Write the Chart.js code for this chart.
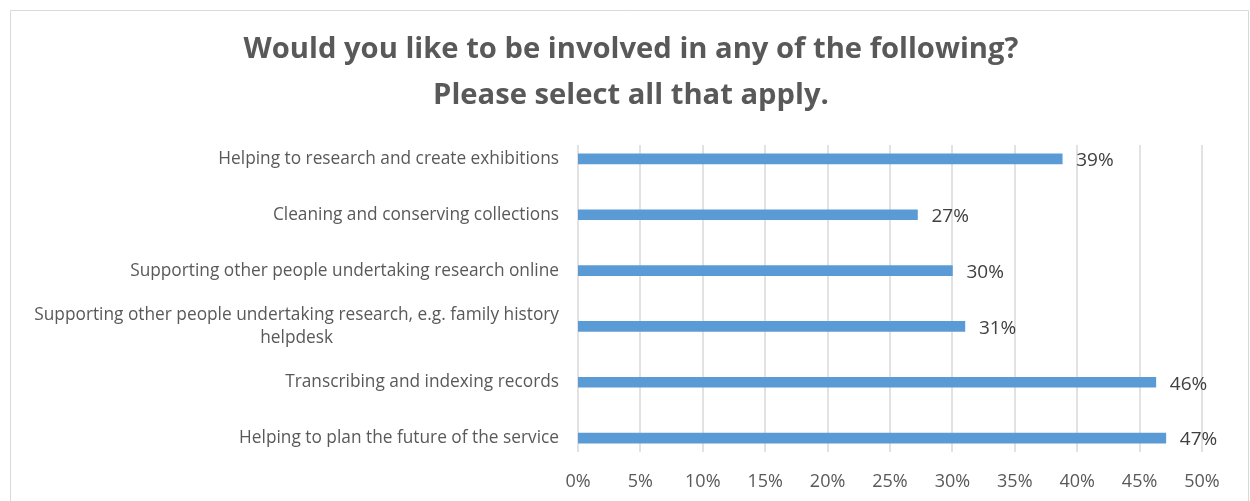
<!DOCTYPE html>
<html>
<head>
<meta charset="utf-8">
<script src="https://cdn.jsdelivr.net/npm/chart.js@4/dist/chart.umd.min.js"></script>
<style>
html,body{margin:0;padding:0;background:#fff;}
#wrap{position:relative;width:1250px;height:501px;}
</style>
</head>
<body>
<div id="wrap"><canvas id="c" width="1250" height="501"></canvas></div>
<script>
const titleLines = ["Would you like to be involved in any of the following?", "Please select all that apply."];
const categories = [
  "Helping to research and create exhibitions",
  "Cleaning and conserving collections",
  "Supporting other people undertaking research online",
  ["Supporting other people undertaking research, e.g. family history", "helpdesk"],
  "Transcribing and indexing records",
  "Helping to plan the future of the service"
];
const values = [38.8, 27.2, 30.0, 31.0, 46.3, 47.1];
const valueLabels = ["39%", "27%", "30%", "31%", "46%", "47%"];
const xMin = 0, xMax = 50, xStep = 5;

const framePlugin = {
  id: 'frame',
  beforeDraw(chart) {
    const ctx = chart.ctx;
    ctx.save();
    ctx.strokeStyle = '#d9d9d9';
    ctx.lineWidth = 1;
    ctx.beginPath();
    ctx.moveTo(10.5, 600); ctx.lineTo(10.5, 10.5); ctx.lineTo(1248.5, 10.5); ctx.lineTo(1248.5, 600);
    ctx.stroke();
    ctx.restore();
  }
};

const titlePlugin = {
  id: 'ctitle',
  afterDraw(chart) {
    const ctx = chart.ctx;
    ctx.save();
    ctx.fillStyle = '#595959';
    ctx.font = 'bold 29.2px "Open Sans"';
    ctx.textAlign = 'center';
    ctx.textBaseline = 'middle';
    ctx.fillText(titleLines[0], 631, 50);
    ctx.fillText(titleLines[1], 631, 96);
    ctx.restore();
  }
};

const yLabelPlugin = {
  id: 'ylabels',
  afterDraw(chart) {
    const ctx = chart.ctx, ys = chart.scales.y;
    ctx.save();
    ctx.fillStyle = '#595959';
    ctx.font = '17.3px "Open Sans"';
    ctx.textAlign = 'center';
    ctx.textBaseline = 'middle';
    const rightEdge = ys.right - 19;
    chart.data.labels.forEach((lab, i) => {
      const lines = Array.isArray(lab) ? lab : [lab];
      const w = Math.max(...lines.map(l => ctx.measureText(l).width));
      const cx = rightEdge - w / 2;
      const cy = ys.getPixelForValue(i);
      lines.forEach((l, j) => {
        ctx.fillText(l, cx, cy + (j - (lines.length - 1) / 2) * 23);
      });
    });
    ctx.restore();
  }
};

const gridPlugin = {
  id: 'vgrid',
  beforeDatasetsDraw(chart) {
    const ctx = chart.ctx, xs = chart.scales.x, area = chart.chartArea;
    ctx.save();
    ctx.strokeStyle = '#d9d9d9';
    ctx.lineWidth = 1.5;
    xs.ticks.forEach(t => {
      const x = Math.round(xs.getPixelForValue(t.value));
      ctx.beginPath();
      ctx.moveTo(x, area.top + 14);
      ctx.lineTo(x, area.bottom - 14);
      ctx.stroke();
    });
    ctx.restore();
  }
};

const labelPlugin = {
  id: 'vlabels',
  afterDatasetsDraw(chart) {
    const ctx = chart.ctx;
    const meta = chart.getDatasetMeta(0);
    ctx.save();
    ctx.fillStyle = '#404040';
    ctx.font = '19px "Open Sans"';
    ctx.textAlign = 'left';
    ctx.textBaseline = 'middle';
    meta.data.forEach((bar, i) => {
      ctx.fillText(valueLabels[i], bar.x + 14, bar.y + 2);
    });
    ctx.restore();
  }
};

new Chart(document.getElementById('c'), {
  type: 'bar',
  data: {
    labels: categories,
    datasets: [{
      data: values,
      backgroundColor: '#5B9BD5',
      borderWidth: 0,
      barThickness: 10
    }]
  },
  options: {
    indexAxis: 'y',
    responsive: false,
    animation: false,
    layout: { padding: { left: 10, right: 48, top: 131, bottom: 0 } },
    plugins: {
      legend: { display: false },
      tooltip: { enabled: false },
      title: { display: false }
    },
    scales: {
      x: {
        min: xMin, max: xMax,
        ticks: {
          stepSize: xStep,
          color: '#595959',
          font: { family: '"Open Sans"', size: 18 },
          padding: 5,
          callback: v => v + '%'
        },
        grid: { display: false, drawTicks: false },
        border: { display: false },
        afterFit: s => { s.height = 35; }
      },
      y: {
        ticks: { display: false },
        grid: { display: false, drawTicks: false },
        border: { display: false },
        afterFit: s => { s.width = 568; }
      }
    }
  },
  plugins: [framePlugin, gridPlugin, labelPlugin, yLabelPlugin, titlePlugin]
});
</script>
</body>
</html>
